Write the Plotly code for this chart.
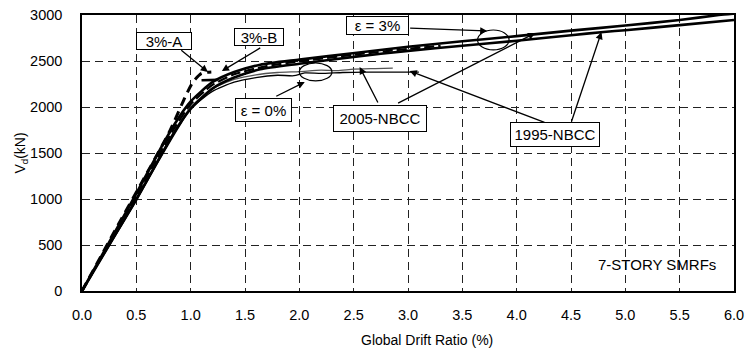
import plotly.graph_objects as go

# ---------------- data ----------------
# thick solid upper curve (epsilon = 3%)
eps3_x = [0, 0.25, 0.5, 0.7, 0.85, 1.0, 1.2, 1.4, 1.64, 2.0, 2.53, 3.0, 3.5, 4.0, 4.5, 5.0, 5.5, 5.86, 6.0]
eps3_y = [0, 530, 1060, 1500, 1810, 2060, 2270, 2380, 2460, 2515, 2590, 2655, 2715, 2770, 2830, 2885, 2945, 3000, 3015]

# thick solid lower curve (1995-NBCC)
nbcc95_x = [0, 0.25, 0.5, 0.7, 0.85, 1.0, 1.2, 1.4, 1.64, 2.0, 2.5, 3.0, 3.5, 4.0, 4.5, 4.8, 5.0, 5.5, 6.0]
nbcc95_y = [0, 500, 1000, 1420, 1730, 1980, 2200, 2320, 2410, 2470, 2545, 2610, 2665, 2720, 2780, 2815, 2835, 2890, 2946]

# thick dashed curve (3%-B)
b3_x = [0, 0.25, 0.5, 0.7, 0.85, 1.0, 1.2, 1.4, 1.7, 2.0, 2.5, 3.0, 3.3]
b3_y = [0, 515, 1030, 1460, 1770, 2030, 2240, 2355, 2445, 2495, 2568, 2632, 2665]

# thick dashed early-terminating curve (3%-A)
a3_x = [0, 0.3, 0.55, 0.8, 0.95, 1.02, 1.1, 1.19]
a3_y = [0, 650, 1180, 1720, 2110, 2270, 2365, 2380]
a3b_x = [1.1, 1.25]
a3b_y = [2290, 2295]

# thin curve (epsilon = 0%, black)
eps0_x = [0, 0.25, 0.5, 0.7, 0.9, 1.0, 1.2, 1.4, 1.6, 1.8, 1.95, 2.05, 2.2, 2.4, 2.6, 2.8, 3.1]
eps0_y = [0, 490, 980, 1400, 1800, 1980, 2170, 2270, 2320, 2345, 2340, 2370, 2365, 2375, 2378, 2380, 2380]

# thin curve (2005-NBCC, gray)
nbcc05_x = [0, 0.25, 0.5, 0.7, 0.9, 1.0, 1.2, 1.4, 1.6, 1.8, 2.0, 2.2, 2.35, 2.5, 2.7, 2.86]
nbcc05_y = [0, 495, 990, 1410, 1820, 2000, 2200, 2300, 2350, 2375, 2385, 2400, 2395, 2412, 2418, 2422]

# annotation labels: text, x, y, box width/height (px)
label_text = ["3%-A", "3%-B", "\u03b5 = 3%", "\u03b5 = 0%", "2005-NBCC", "1995-NBCC"]
label_x = [0.754, 1.627, 2.72, 1.673, 2.74, 4.35]
label_y = [2718, 2761, 2881, 1967, 1880, 1696]
label_w = [56, 50, 63, 57, 94, 90]
label_h = [18, 18, 19, 24, 27, 25]

# arrows: tail (x, y) -> head (x, y)
arrow_tail_x = [0.90, 1.654, 3.006, 1.774, 2.73, 2.895, 4.27, 4.50]
arrow_tail_y = [2631, 2652, 2859, 2109, 2033, 2033, 1826, 1826]
arrow_head_x = [1.158, 1.287, 3.73, 2.05, 2.555, 4.17, 3.015, 4.78]
arrow_head_y = [2381, 2391, 2826, 2272, 2435, 2804, 2391, 2815]

# ellipses: x0, x1, y0, y1
ell_x0 = [2.0, 3.64]
ell_x1 = [2.30, 3.93]
ell_y0 = [2283, 2620]
ell_y1 = [2478, 2837]

x_ticks = [0.0, 0.5, 1.0, 1.5, 2.0, 2.5, 3.0, 3.5, 4.0, 4.5, 5.0, 5.5, 6.0]
y_ticks = [0, 500, 1000, 1500, 2000, 2500, 3000]

FONT = "Liberation Sans, Arial, sans-serif"

fig = go.Figure()

def add_line(x, y, width, color="black", dash="solid"):
    fig.add_trace(go.Scatter(x=x, y=y, mode="lines",
                             line=dict(color=color, width=width, dash=dash, shape="spline", smoothing=0.6),
                             showlegend=False, hoverinfo="skip", cliponaxis=True))

add_line(nbcc05_x, nbcc05_y, 1.3, color="#555555")
add_line(eps0_x, eps0_y, 1.3)
add_line(nbcc95_x, nbcc95_y, 2.6)
add_line(b3_x, b3_y, 2.2, dash="10px,4px")
add_line(eps3_x, eps3_y, 2.6)
add_line(a3_x, a3_y, 3.0, dash="9px,6px")
add_line(a3b_x, a3b_y, 2.6)

for i in range(len(ell_x0)):
    fig.add_shape(type="circle", xref="x", yref="y",
                  x0=ell_x0[i], x1=ell_x1[i], y0=ell_y0[i], y1=ell_y1[i],
                  line=dict(color="black", width=1.2))

for i in range(len(arrow_tail_x)):
    fig.add_annotation(x=arrow_head_x[i], y=arrow_head_y[i], ax=arrow_tail_x[i], ay=arrow_tail_y[i],
                       xref="x", yref="y", axref="x", ayref="y", text="",
                       showarrow=True, arrowhead=2, arrowsize=1.1, arrowwidth=1.3,
                       arrowcolor="black", standoff=0, startstandoff=0)

for t, xx, yy, w, h in zip(label_text, label_x, label_y, label_w, label_h):
    fig.add_annotation(x=xx, y=yy, xref="x", yref="y", text=t, showarrow=False,
                       width=w - 2, height=h - 2, align="center", valign="middle",
                       font=dict(family=FONT, size=15, color="black"),
                       bgcolor="white", bordercolor="black", borderwidth=1, borderpad=0)

fig.add_annotation(x=5.855, y=283, xref="x", yref="y", text="7-STORY SMRFs", showarrow=False,
                   xanchor="right", font=dict(family=FONT, size=15, color="black"))

# x-axis title (placed as paper annotation to match reference position)
fig.add_annotation(x=0.529, y=-0.178, xref="paper", yref="paper", text="Global Drift Ratio (%)",
                   showarrow=False, xanchor="center", yanchor="middle",
                   font=dict(family=FONT, size=14, color="black"))

fig.update_xaxes(range=[0, 6], tickvals=x_ticks, ticktext=[f"{v:.1f}" for v in x_ticks],
                 showgrid=True, gridcolor="#222222", gridwidth=1, griddash="8px,5px",
                 showline=True, linecolor="black", linewidth=1.5, mirror=True,
                 ticks="", zeroline=False, ticklabelstandoff=10, automargin=False,
                 tickfont=dict(family=FONT, size=14.5, color="black"))
fig.update_yaxes(range=[0, 3000], tickvals=y_ticks,
                 showgrid=True, gridcolor="#222222", gridwidth=1, griddash="8px,5px",
                 showline=True, linecolor="black", linewidth=1.5, mirror=True,
                 ticks="", zeroline=False, ticklabelstandoff=15, automargin=False,
                 tickfont=dict(family=FONT, size=14.5, color="black"),
                 title=dict(text="V<sub>d</sub>(kN)", font=dict(family=FONT, size=14, color="black"), standoff=0))

fig.update_layout(width=745, height=351, margin=dict(l=82, r=11, t=15, b=60),
                  plot_bgcolor="white", paper_bgcolor="white", showlegend=False)

fig.write_html("out.html")
